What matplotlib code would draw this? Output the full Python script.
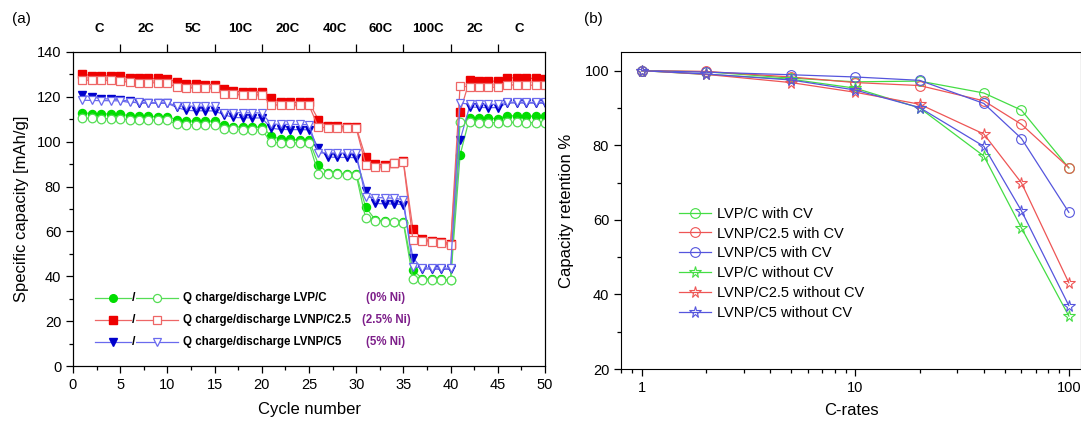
import numpy as np
import matplotlib
matplotlib.use('Agg')
import matplotlib.pyplot as plt
from matplotlib.ticker import MultipleLocator, FixedLocator, FuncFormatter, NullFormatter, LogLocator

plt.rcParams['font.family'] = ['Liberation Sans', 'DejaVu Sans']

# ---------------- data (a): rate capability per cycle ----------------
cycles = np.arange(1, 51)

lvp_charge = [113.0, 112.5, 112.5, 112.3, 112.3, 111.6, 111.3, 111.3, 111.2, 111.2,
              109.8, 109.3, 109.2, 109.2, 109.2, 107.3, 106.7, 106.5, 106.5, 106.5,
              102.7, 101.0, 101.0, 100.8, 100.8, 89.8, 86.0, 85.9, 85.8, 85.7,
              70.8, 65.3, 64.6, 64.3, 64.1, 42.7, 39.0, 38.7, 38.6, 38.5,
              94.0, 110.5, 110.5, 110.5, 110.3, 111.6, 111.5, 111.5, 111.3, 111.3]
lvp_discharge = [110.5, 110.4, 110.3, 110.3, 110.2, 109.8, 109.7, 109.6, 109.6, 109.5,
                 107.8, 107.6, 107.5, 107.5, 107.4, 105.6, 105.5, 105.4, 105.3, 105.3,
                 99.7, 99.6, 99.5, 99.5, 99.4, 85.6, 85.5, 85.4, 85.3, 85.2,
                 65.8, 64.8, 64.3, 64.0, 63.8, 38.8, 38.5, 38.4, 38.3, 38.2,
                 108.6, 108.6, 108.5, 108.5, 108.5, 108.6, 108.6, 108.5, 108.5, 108.4]

c25_charge = [130.1, 129.5, 129.5, 129.3, 129.3, 128.6, 128.3, 128.2, 128.2, 128.1,
              126.5, 125.8, 125.6, 125.5, 125.5, 123.5, 122.5, 122.3, 122.2, 122.2,
              119.4, 117.8, 117.6, 117.5, 117.5, 109.8, 107.0, 106.8, 106.6, 106.5,
              93.0, 90.0, 89.6, 90.6, 91.2, 61.3, 56.5, 55.8, 55.2, 54.6,
              113.3, 127.3, 127.1, 127.0, 127.0, 128.4, 128.5, 128.3, 128.2, 128.1]
c25_discharge = [127.4, 127.4, 127.3, 127.3, 127.2, 126.4, 126.3, 126.3, 126.2, 126.2,
                 124.2, 124.1, 124.0, 124.0, 123.9, 121.2, 121.1, 121.0, 121.0, 120.9,
                 116.4, 116.4, 116.3, 116.3, 116.2, 106.4, 106.3, 106.2, 106.1, 106.0,
                 89.8, 88.9, 88.6, 90.4, 90.8, 56.4, 55.9, 55.4, 54.7, 54.0,
                 124.9, 124.4, 124.4, 124.3, 124.3, 125.3, 125.3, 125.2, 125.2, 125.1]

c5_charge = [120.7, 120.0, 119.2, 119.0, 118.8, 118.0, 117.2, 117.2, 117.1, 117.1,
             115.3, 114.0, 113.8, 113.8, 113.7, 112.0, 110.8, 110.7, 110.6, 110.6,
             106.0, 105.5, 105.4, 105.4, 105.3, 97.0, 93.2, 93.0, 93.0, 92.9,
             78.2, 72.5, 72.3, 72.2, 72.0, 48.3, 43.3, 43.2, 43.1, 43.1,
             100.7, 115.5, 115.3, 115.2, 115.2, 117.2, 117.3, 117.2, 117.2, 117.1]
c5_discharge = [118.5, 118.4, 118.3, 118.3, 118.2, 117.5, 117.5, 117.4, 117.4, 117.3,
                116.0, 115.9, 115.8, 115.8, 115.8, 113.0, 113.0, 112.9, 112.9, 112.8,
                107.8, 107.8, 107.7, 107.7, 107.6, 95.0, 95.0, 94.9, 94.9, 94.8,
                75.3, 75.1, 75.0, 74.8, 74.2, 44.2, 43.8, 43.7, 43.6, 43.6,
                117.2, 116.8, 116.7, 116.7, 116.6, 117.6, 117.6, 117.5, 117.5, 117.5]

rate_labels = ['C', '2C', '5C', '10C', '20C', '40C', '60C', '100C', '2C', 'C']
rate_label_pos = [2.8, 7.7, 12.7, 17.7, 22.7, 27.7, 32.6, 37.6, 42.6, 47.3]

# ---------------- data (b): capacity retention vs C-rate ----------------
c_rates = [1, 2, 5, 10, 20, 40, 60, 100]
ret_lvp_cv = [100, 99.7, 98.0, 97.0, 97.2, 94.0, 89.4, 73.9]
ret_c25_cv = [100, 99.8, 98.3, 96.8, 96.0, 91.9, 85.6, 74.0]
ret_c5_cv = [100, 99.6, 98.9, 98.3, 97.4, 91.2, 81.8, 62.0]
ret_lvp_nocv = [100, 99.0, 97.7, 95.3, 90.0, 77.1, 57.8, 34.2]
ret_c25_nocv = [100, 99.0, 96.8, 94.2, 91.0, 83.0, 69.9, 43.1]
ret_c5_nocv = [100, 99.1, 97.5, 94.8, 90.1, 79.7, 62.4, 37.0]

fig = plt.figure(figsize=(10.81, 4.21), dpi=100)

# ======================= panel (a) =======================
ax = fig.add_axes([0.0675, 0.1306, 0.4367, 0.7459])

green_f, green_o = '#00dd00', '#55dd55'
red_f, red_o = '#ee0000', '#ee6666'
blue_f, blue_o = '#0000cc', '#6a6aee'

series = [
    (lvp_charge, lvp_discharge, 'o', green_f, green_o),
    (c25_charge, c25_discharge, 's', red_f, red_o),
    (c5_charge, c5_discharge, 'v', blue_f, blue_o),
]
for ch, dis, m, cf, co in series:
    ax.plot(cycles, ch, marker=m, color=co, mfc=cf, mec=cf, ms=5.8, lw=0.9, zorder=2)
    ax.plot(cycles, dis, marker=m, color=co, mfc='white', mec=co, ms=6.2, mew=0.9, lw=0.9, zorder=3)

ax.set_xlim(0, 50)
ax.set_ylim(0, 140)
ax.xaxis.set_major_locator(MultipleLocator(5))
ax.xaxis.set_minor_locator(MultipleLocator(2.5))
ax.yaxis.set_major_locator(MultipleLocator(20))
ax.yaxis.set_minor_locator(MultipleLocator(10))
ax.tick_params(which='major', direction='out', length=5, width=0.9, labelsize=10.5)
ax.tick_params(which='minor', direction='out', length=3, width=0.9)
ax.set_xlabel('Cycle number', fontsize=12)
ax.set_ylabel('Specific capacity [mAh/g]', fontsize=12)
ax.xaxis.set_label_coords(0.5, -0.115)
ax.yaxis.set_label_coords(-0.093, 0.5)

# top axis with C-rate labels
top = ax.twiny()
top.set_xlim(0, 50)
top.xaxis.set_major_locator(FixedLocator(np.arange(5, 50, 5)))
top.xaxis.set_major_formatter(NullFormatter())
top.xaxis.set_minor_locator(FixedLocator(rate_label_pos))
top.set_xticklabels(rate_labels, minor=True, fontweight='bold', fontsize=9.5)
top.tick_params(which='major', direction='out', length=6, width=0.9)
top.tick_params(which='minor', length=0, pad=12)

# hand-made legend
legend_rows = [
    ('o', green_f, green_o, 'Q charge/discharge LVP/C', '(0% Ni)', 0.216),
    ('s', red_f, red_o, 'Q charge/discharge LVNP/C2.5', '(2.5% Ni)', 0.146),
    ('v', blue_f, blue_o, 'Q charge/discharge LVNP/C5', '(5% Ni)', 0.076),
]
for m, cf, co, txt, ni, yy in legend_rows:
    ax.plot([0.047, 0.222], [yy, yy], color=co, lw=0.9, transform=ax.transAxes)
    ax.plot([0.085], [yy], marker=m, color=cf, ms=5.5, transform=ax.transAxes)
    ax.plot([0.178], [yy], marker=m, mfc='white', mec=co, ms=5.8, mew=0.9, transform=ax.transAxes)
    ax.text(0.129, yy, '/', transform=ax.transAxes, ha='center', va='center',
            fontsize=9, fontweight='bold', bbox=dict(fc='white', ec='none', pad=0.2))
    ax.text(0.233, yy, txt, transform=ax.transAxes, ha='left', va='center',
            fontsize=8.3, fontweight='bold')
    ax.text(0.663, yy, ni, transform=ax.transAxes, ha='center', va='center',
            fontsize=8.3, fontweight='bold', color='#7d1f8a')

fig.text(0.011, 0.955, '(a)', fontsize=11, va='center')

# ======================= panel (b) =======================
bx = fig.add_axes([0.5745, 0.1235, 0.4255, 0.753])
g2, r2, b2 = '#44dd44', '#ee5555', '#5555dd'
ret_series = [
    (ret_lvp_cv, 'o', g2, 'LVP/C with CV'),
    (ret_c25_cv, 'o', r2, 'LVNP/C2.5 with CV'),
    (ret_c5_cv, 'o', b2, 'LVNP/C5 with CV'),
    (ret_lvp_nocv, '*', g2, 'LVP/C without CV'),
    (ret_c25_nocv, '*', r2, 'LVNP/C2.5 without CV'),
    (ret_c5_nocv, '*', b2, 'LVNP/C5 without CV'),
]
for vals, m, c, lab in ret_series:
    ms = 7 if m == 'o' else 8.5
    bx.plot(c_rates, vals, marker=m, color=c, mfc='none', mec=c, ms=ms, mew=0.8, lw=0.9, label=lab)

bx.set_xscale('log')
bx.set_xlim(0.8, 114)
bx.set_ylim(20, 105)
bx.xaxis.set_major_locator(LogLocator(base=10))
bx.xaxis.set_major_formatter(FuncFormatter(lambda v, p: '%g' % v))
bx.xaxis.set_minor_locator(LogLocator(base=10, subs=np.arange(2, 10)))
bx.xaxis.set_minor_formatter(NullFormatter())
bx.yaxis.set_major_locator(MultipleLocator(20))
bx.yaxis.set_minor_locator(MultipleLocator(10))
bx.tick_params(which='major', direction='out', length=5, width=0.9, labelsize=10.5)
bx.tick_params(which='minor', direction='out', length=3, width=0.9)
bx.set_xlabel('C-rates', fontsize=12)
bx.set_ylabel('Capacity retention %', fontsize=12)
bx.xaxis.set_label_coords(0.5, -0.107)
bx.yaxis.set_label_coords(-0.102, 0.5)
bx.legend(loc='upper left', bbox_to_anchor=(0.11, 0.535), frameon=False, fontsize=10.5,
          handlelength=2.2, handletextpad=0.4, labelspacing=0.4, borderpad=0)

fig.text(0.54, 0.955, '(b)', fontsize=11, va='center')

fig.savefig('out.png', dpi=100)
